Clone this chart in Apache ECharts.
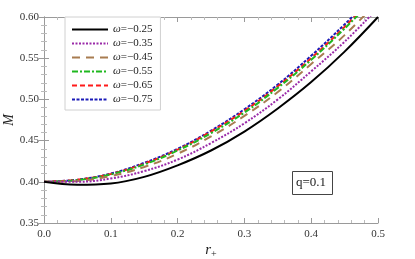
<!DOCTYPE html>
<html><head><meta charset="utf-8">
<script src="https://cdn.jsdelivr.net/npm/echarts@6/dist/echarts.min.js"></script>
<style>html,body{margin:0;padding:0;background:#fff}#c{width:415px;height:259px}</style>
</head><body><div id="c"></div>
<script>
const rPlus = [0, 0.05, 0.1, 0.15, 0.2, 0.25, 0.3, 0.35, 0.4, 0.45, 0.5];
const seriesNames = ['ω=−0.25','ω=−0.35','ω=−0.45','ω=−0.55','ω=−0.65','ω=−0.75'];
const mW025 = [0.400, 0.3965, 0.398, 0.406, 0.420, 0.438, 0.461, 0.489, 0.521, 0.558, 0.600];
const mW035 = [0.400, 0.400, 0.404, 0.413, 0.427, 0.447, 0.471, 0.500, 0.534, 0.570, 0.611];
const mW045 = [0.400, 0.401, 0.407, 0.418, 0.434, 0.455, 0.480, 0.509, 0.543, 0.578, 0.619];
const mW055 = [0.400, 0.402, 0.409, 0.421, 0.438, 0.459, 0.484, 0.514, 0.548, 0.586, 0.627];
const mW065 = [0.400, 0.4025, 0.4095, 0.422, 0.439, 0.461, 0.486, 0.516, 0.550, 0.588, 0.630];
const mW075 = [0.400, 0.4026, 0.410, 0.423, 0.440, 0.462, 0.488, 0.518, 0.553, 0.591, 0.632];
const xTicks = [0, 0.1, 0.2, 0.3, 0.4, 0.5];
const yTicks = [0.35, 0.40, 0.45, 0.50, 0.55, 0.60];

const allM = [mW025, mW035, mW045, mW055, mW065, mW075];
const styles = [
  {color:'#000000', type:'solid', width:2},
  {color:'#9a2aa8', type:[2,1.5], width:2},
  {color:'#a87c50', type:[8,6], width:2},
  {color:'#1fb81f', type:[6,2,2,2], width:2},
  {color:'#ff1a1a', type:[5,3], width:2},
  {color:'#1a1ab8', type:[3,1.5], width:2}
];
const serif = '"Liberation Serif","DejaVu Serif",serif';
const frame = '#9a9a9a';
function ax(extra){
  return Object.assign({
    type:'value',
    axisLine:{show:true, lineStyle:{color:frame, width:1}},
    axisTick:{show:true, inside:true, length:5, lineStyle:{color:frame}},
    minorTick:{show:true, splitNumber:5, length:3, lineStyle:{color:'#bbb'}},
    splitLine:{show:false},
    nameMoveOverlap:false,
    axisLabel:{fontFamily:serif, fontSize:11, color:'#333'}
  }, extra);
}
const chart = echarts.init(document.getElementById('c'));
chart.setOption({
  animation:false,
  grid:{left:44, right:37, top:17, bottom:36, containLabel:false, outerBoundsMode:'none'},
  xAxis:[
    ax({min:xTicks[0], max:xTicks[xTicks.length-1], interval:0.1, position:'bottom',
        axisLabel:{fontFamily:serif, fontSize:11, color:'#333', margin:6, formatter:v=>v.toFixed(1)},
        name:'{i|r}{s|+}', nameLocation:'middle', nameGap:18,
        nameTextStyle:{rich:{i:{fontFamily:serif, fontStyle:'italic', fontSize:15, color:'#222'},
                             s:{fontFamily:serif, fontSize:10, color:'#222', padding:[8,0,0,0]}}}}),
    ax({min:xTicks[0], max:xTicks[xTicks.length-1], interval:0.1, position:'top',
        axisLabel:{show:false}})
  ],
  yAxis:[
    ax({min:yTicks[0], max:yTicks[yTicks.length-1], interval:0.05, position:'left',
        axisLabel:{fontFamily:serif, fontSize:11, color:'#333', margin:5, formatter:v=>v.toFixed(2)},
        name:'M', nameLocation:'middle', nameGap:28, nameRotate:90,
        nameTextStyle:{fontFamily:serif, fontStyle:'italic', fontSize:14, color:'#222'}}),
    ax({min:yTicks[0], max:yTicks[yTicks.length-1], interval:0.05, position:'right',
        axisLabel:{show:false}})
  ],
  legend:{
    orient:'vertical', left:65, top:17, width:103,
    padding:[7,8,5,6], itemGap:3, itemWidth:36, itemHeight:11,
    borderColor:'#d0d0d0', borderWidth:1, backgroundColor:'#fff',
    itemStyle:{color:'rgba(0,0,0,0)', borderWidth:0, opacity:0},
    formatter: n => '{i|ω}{n|' + n.slice(1) + '}',
    textStyle:{fontFamily:serif, fontSize:11, color:'#222',
      rich:{i:{fontFamily:serif, fontStyle:'italic', fontSize:11, color:'#222'},
            n:{fontFamily:serif, fontSize:11, color:'#222'}}},
    data:seriesNames
  },
  graphic:[
    {type:'rect', left:292, top:171, shape:{width:40, height:23},
     style:{fill:'#fff', stroke:'#444', lineWidth:1}},
    {type:'text', left:296, top:176, style:{text:'q=0.1', font:'13px '+serif, fill:'#222'}}
  ],
  series: allM.map((arr,i)=>({
    name:seriesNames[i], type:'line', smooth:0.4, symbol:'none',
    xAxisIndex:0, yAxisIndex:0, clip:true,
    lineStyle:styles[i], itemStyle:{color:styles[i].color},
    z: 10-i,
    data: rPlus.map((r,k)=>[r, arr[k]])
  }))
});
</script></body></html>
